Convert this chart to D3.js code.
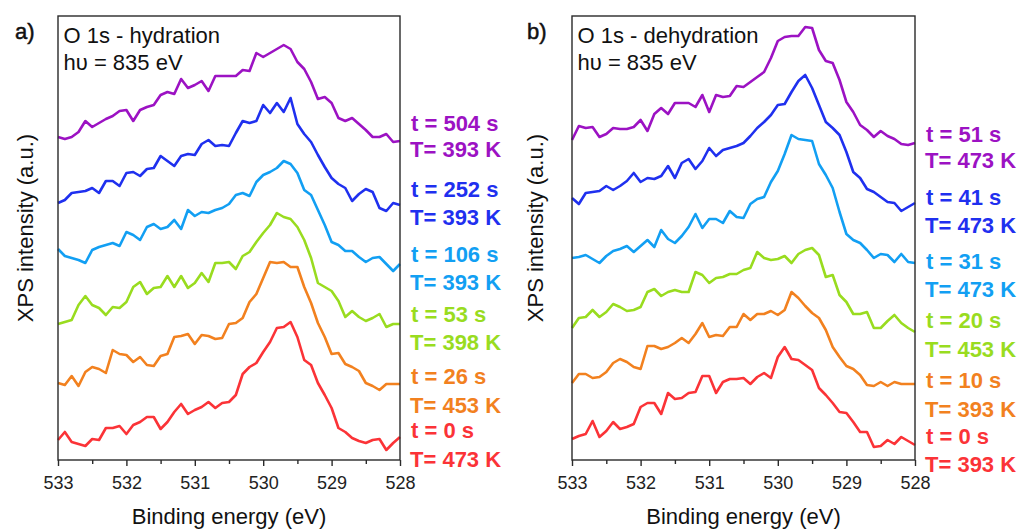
<!DOCTYPE html>
<html><head><meta charset="utf-8">
<script src="https://cdn.jsdelivr.net/npm/d3@7"></script>
<style>
html,body{margin:0;padding:0;background:#fff;}
svg text{font-family:"Liberation Sans",Arial,sans-serif;}
</style></head>
<body>
<svg id="chart" width="1020" height="529"></svg>
<script>
// Binding energy (eV) of each data point
const energy = [533.0,532.9,532.8,532.7,532.6,532.5,532.4,532.3,532.2,532.1,
  532.0,531.9,531.8,531.7,531.6,531.5,531.4,531.3,531.2,531.1,
  531.0,530.9,530.8,530.7,530.6,530.5,530.4,530.3,530.2,530.1,
  530.0,529.9,529.8,529.7,529.6,529.5,529.4,529.3,529.2,529.1,
  529.0,528.9,528.8,528.7,528.6,528.5,528.4,528.3,528.2,528.1,528.0];
const xTicks = [533, 532, 531, 530, 529, 528];
const xMinorTicks = [532.5, 531.5, 530.5, 529.5, 528.5];

// Panel a: O 1s - hydration (offset spectra, a.u.)
const hydT504 = [323,321,323,328,339,333,337,341,344,349,350,339,350,353,355,365,368,366,381,372,375,379,369,384,384,384,384,390,389,407,403,407,411,415,411,398,391,378,361,363,357,342,339,342,336,330,323,323,326,318,319];
const hydT252 = [257,260,267,268,269,272,267,279,279,274,287,288,284,291,292,304,299,294,304,306,305,316,320,314,315,314,327,339,337,339,355,347,357,348,362,336,326,318,305,293,282,276,272,259,266,271,268,252,249,257,255];
const hydT106 = [211,204,202,200,197,210,213,215,217,214,228,225,220,233,236,231,233,240,231,250,244,248,247,250,252,256,265,267,264,278,285,288,292,299,296,287,270,265,250,235,218,215,209,209,203,198,202,203,196,189,196];
const hydT53  = [136,138,140,155,164,155,152,145,153,152,158,173,178,166,172,173,184,173,184,172,177,187,178,197,197,198,191,204,208,218,227,235,247,243,241,233,220,202,177,173,169,159,143,149,143,139,142,146,133,136,136];
const hydT26  = [77,75,84,74,88,93,91,87,110,106,105,98,103,95,94,104,106,123,124,126,116,125,124,121,122,136,137,142,158,166,182,198,197,198,193,193,173,157,137,123,106,107,96,93,89,77,74,70,76,76,76];
const hydT0   = [20,28,18,16,14,21,20,32,32,34,26,35,38,43,43,31,38,48,56,46,50,53,58,52,57,58,65,86,93,97,108,118,132,133,138,123,100,95,77,65,52,32,28,22,19,17,20,21,10,17,23];
const hydLabels = [["t = 504 s","T= 393 K"],["t = 252 s","T= 393 K"],["t = 106 s","T= 393 K"],["t = 53 s","T= 398 K"],["t = 26 s","T= 453 K"],["t = 0 s","T= 473 K"]];

// Panel b: O 1s - dehydration
const dehT51 = [320,334,332,333,323,326,332,331,331,333,340,329,346,352,346,357,357,357,353,365,348,365,363,364,374,373,378,383,388,402,419,423,424,424,433,432,410,399,397,380,358,348,335,330,323,329,324,321,316,315,317];
const dehT41 = [262,256,267,268,269,274,270,274,279,287,278,282,281,284,294,282,297,301,291,299,312,304,310,312,314,317,324,332,338,345,355,356,368,379,385,372,355,338,332,325,308,288,282,271,268,263,258,257,249,253,257];
const dehT31 = [202,203,205,201,197,204,209,211,214,208,214,220,213,230,221,217,224,233,246,232,241,241,237,249,243,242,256,261,263,278,289,306,325,321,320,319,296,285,272,248,226,220,217,210,202,206,205,198,206,198,197];
const dehT20 = [132,142,143,150,143,148,156,153,149,150,153,168,171,164,168,170,168,168,188,185,177,182,183,186,186,190,192,208,202,200,201,204,197,206,210,212,205,183,185,165,158,146,146,148,132,132,139,145,137,132,128];
const dehT10 = [77,86,86,82,83,88,97,101,98,93,91,114,114,111,113,117,122,117,126,137,123,125,124,133,133,146,140,146,146,149,145,150,168,162,154,147,142,130,113,103,94,91,85,75,74,78,74,78,76,76,76];
const dehT0  = [21,24,26,39,23,29,38,31,33,36,53,57,57,46,67,61,62,67,68,84,84,67,78,81,81,82,76,83,87,82,103,113,101,100,95,90,72,65,57,48,47,38,28,28,13,14,20,16,23,19,15];
const dehLabels = [["t = 51 s","T= 473 K"],["t = 41 s","T= 473 K"],["t = 31 s","T= 473 K"],["t = 20 s","T= 453 K"],["t = 10 s","T= 393 K"],["t = 0 s","T= 393 K"]];

const colors = ["#9c12c3","#1f30ef","#129ff3","#99dc1f","#f2811f","#fb3337"];

// layout
const panels = [
  {letter:"a)", title:"O 1s - hydration", series:[hydT504,hydT252,hydT106,hydT53,hydT26,hydT0], labels:hydLabels,
   left:58, right:400, letterX:15, yTitleX:33, labelX:410,
   tY:[130.7,196.7,261.7,321.7,384,438.3], TY:[157.3,225,290,350,412.7,466.7]},
  {letter:"b)", title:"O 1s - dehydration", series:[dehT51,dehT41,dehT31,dehT20,dehT10,dehT0], labels:dehLabels,
   left:572, right:915, letterX:527, yTitleX:543, labelX:925,
   tY:[141.7,205,269.3,328.3,388.3,444], TY:[168.3,233.3,296.7,356.7,416.7,471.7]}
];
const plotTop = 16, plotBottom = 460;

const svg = d3.select("#chart");
const y = d3.scaleLinear().domain([0, 444]).range([plotBottom, plotTop]);

panels.forEach(p => {
  const x = d3.scaleLinear().domain([533, 528]).range([p.left, p.right]);
  const g = svg.append("g");

  // curves
  const line = d3.line().x((d,i) => x(energy[i])).y(d => y(d));
  p.series.forEach((s, k) => {
    g.append("path").datum(s)
      .attr("d", line)
      .attr("fill","none")
      .attr("stroke", colors[k])
      .attr("stroke-width", 2.6)
      .attr("stroke-linejoin","round");
  });

  // frame
  g.append("rect")
    .attr("x", p.left).attr("y", plotTop)
    .attr("width", p.right - p.left).attr("height", plotBottom - plotTop)
    .attr("fill","none").attr("stroke","#2a2a2a").attr("stroke-width",1.4);

  // x axis
  const ax = g.append("g").attr("transform", `translate(0,${plotBottom})`)
    .call(d3.axisBottom(x).tickValues(xTicks).tickSize(6).tickSizeOuter(0).tickPadding(10).tickFormat(d3.format("d")));
  ax.select(".domain").remove();
  ax.selectAll(".tick line").attr("stroke","#2a2a2a").attr("stroke-width",1.4);
  ax.selectAll(".tick text").attr("font-size",18).attr("fill","#222");
  const axm = g.append("g").attr("transform", `translate(0,${plotBottom})`)
    .call(d3.axisBottom(x).tickValues(xMinorTicks).tickSize(4).tickFormat(""));
  axm.select(".domain").remove();
  axm.selectAll(".tick line").attr("stroke","#2a2a2a").attr("stroke-width",1.4);

  // axis titles
  g.append("text").attr("x",(p.left+p.right)/2).attr("y",524)
    .attr("text-anchor","middle").attr("font-size",22).attr("fill","#111")
    .text("Binding energy (eV)");
  g.append("text").attr("transform",`translate(${p.yTitleX},228) rotate(-90)`)
    .attr("text-anchor","middle").attr("font-size",22).attr("fill","#111")
    .text("XPS intensity (a.u.)");

  // panel letter & titles
  g.append("text").attr("x",p.letterX).attr("y",39).attr("font-size",22)
    .attr("fill","#111").attr("stroke","#111").attr("stroke-width",0.5).text(p.letter);
  g.append("text").attr("x",p.left+5.5).attr("y",43.3).attr("font-size",22).attr("fill","#111").text(p.title);
  g.append("text").attr("x",p.left+5.5).attr("y",70).attr("font-size",22).attr("fill","#111").text("h\u03C5 = 835 eV");

  // series labels
  p.labels.forEach((lab, k) => {
    g.append("text").attr("x",p.labelX+1).attr("y",p.tY[k]).attr("font-size",22)
      .attr("font-weight","bold").attr("fill",colors[k]).text(lab[0]);
    g.append("text").attr("x",p.labelX).attr("y",p.TY[k]).attr("font-size",22)
      .attr("font-weight","bold").attr("fill",colors[k]).text(lab[1]);
  });
});
</script>
</body></html>
